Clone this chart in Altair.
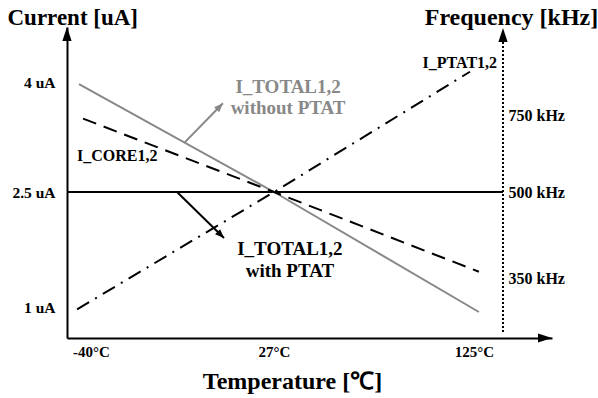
import altair as alt
import pandas as pd

# Axis ticks
temp_ticks = [-40, 27, 125]          # °C
current_ticks = [1, 2.5, 4]          # uA
freq_ticks = [350, 500, 750]         # kHz

# Current curves vs. temperature (°C, uA)
total_temp = [-44.4, 27, 127.4]
total_current = [3.97, 2.5, 0.935]
core_temp = [-42.9, 27, 127.4]
core_current = [3.50, 2.5, 1.46]
ptat_temp = [-45.1, 27, 123.0]
ptat_current = [0.97, 2.5, 4.14]

# Reference level (500 kHz) and the frequency axis line
ref_current = 2.5
ref_temp_span = [-48.79, 139.2]
freq_axis_temp = 139.2
freq_axis_current = [0.674, 4.57]
freq_axis_tip = [139.2, 4.736]

# Axis end points (where the arrowheads sit)
temp_range = [-48.79, 163.2]
current_range = [0.596, 4.75]

# Annotation arrows: start -> tip
grey_arrow_temp = [-5.6, 8.3]
grey_arrow_current = [3.18, 3.71]
black_arrow_temp = [-8.5, 8.7]
black_arrow_current = [2.5, 1.90]

# Annotation labels
grey_label = ["I_TOTAL1,2", "without PTAT"]
grey_label_temp = [33.9, 33.9]
grey_label_current = [3.93, 3.645]
black_label = ["I_TOTAL1,2", "with PTAT"]
black_label_temp = [34.8, 34.8]
black_label_current = [1.757, 1.47]
core_label = ["I_CORE1,2"]
core_label_temp = [-45.1]
core_label_current = [2.99]
ptat_label = ["I_PTAT1,2"]
ptat_label_temp = [136.3]
ptat_label_current = [4.26]

FONT = "Liberation Serif"
GREY = "#888888"
W, H = 485, 311

# Piecewise scales: the temperature axis is drawn schematically
x_scale = alt.Scale(domain=[temp_range[0], -40, 27, 125, temp_range[1]],
                    range=[0, 24, 207, 407, W], nice=False, zero=False)
y_scale = alt.Scale(domain=[current_range[0], 1, 2.5, 4, current_range[1]],
                    range=[H, 280, 165, 55, 0], nice=False, zero=False)
f_scale = alt.Scale(domain=freq_ticks, range=[251, 165, 88], nice=False, zero=False)

x_axis = alt.Axis(values=temp_ticks, labelExpr="datum.value + '°C'", ticks=False, grid=False,
                  domainColor="black", domainWidth=2, labelFont=FONT, labelFontSize=15,
                  labelFontWeight="bold", labelColor="black", labelPadding=6,
                  labelOverlap=False, labelFlush=False, labelBound=False,
                  title="Temperature [℃]", titleFont=FONT, titleFontSize=24,
                  titleFontWeight="bold", titleColor="black", titleX=225, titleY=50,
                  titleAlign="center", titleBaseline="alphabetic")
y_axis = alt.Axis(values=current_ticks, labelExpr="datum.value + ' uA'", ticks=False, grid=False,
                  domainColor="black", domainWidth=2, labelFont=FONT, labelFontSize=15.5,
                  labelFontWeight="bold", labelColor="black", labelPadding=12,
                  labelOverlap=False, labelFlush=False, labelBound=False,
                  title="Current [uA]", titleFont=FONT, titleFontSize=23,
                  titleFontWeight="bold", titleColor="black", titleAngle=0,
                  titleX=-60, titleY=-3, titleAlign="left", titleBaseline="alphabetic")
f_axis = alt.Axis(orient="right", offset=-49, values=freq_ticks,
                  labelExpr="datum.value + ' kHz'", ticks=False, grid=False, domain=False,
                  labelFont=FONT, labelFontSize=16, labelFontWeight="bold",
                  labelColor="black", labelPadding=5,
                  labelOverlap=False, labelFlush=False, labelBound=False,
                  title="Frequency [kHz]", titleFont=FONT, titleFontSize=24,
                  titleFontWeight="bold", titleColor="black", titleAngle=0,
                  titleX=8, titleY=-3, titleAlign="center", titleBaseline="alphabetic")


def X(field="t"):
    return alt.X(f"{field}:Q", scale=x_scale, axis=x_axis)


def Y(field="c"):
    return alt.Y(f"{field}:Q", scale=y_scale, axis=y_axis)


def frame(temps, currents, **extra):
    d = {"t": temps, "c": currents}
    d.update(extra)
    return pd.DataFrame(d)


ARROW_BIG = "M0,0L0.33,1L-0.33,1Z"
ARROW_SMALL = "M0,0L0.4,1L-0.4,1Z"

curves = [
    alt.Chart(frame(total_temp, total_current)).mark_line(color=GREY, strokeWidth=2)
    .encode(x=X(), y=Y()),
    alt.Chart(frame(core_temp, core_current)).mark_line(color="black", strokeWidth=2,
                                                         strokeDash=[14, 8])
    .encode(x=X(), y=Y()),
    alt.Chart(frame(ptat_temp, ptat_current)).mark_line(color="black", strokeWidth=2,
                                                         strokeDash=[14, 7, 2, 7])
    .encode(x=X(), y=Y()),
]

ref_line = alt.Chart(pd.DataFrame({"t": [ref_temp_span[0]], "t2": [ref_temp_span[1]],
                                   "c": [ref_current]})) \
    .mark_rule(color="black", strokeWidth=2) \
    .encode(x=X(), x2="t2:Q", y=Y())

freq_line = alt.Chart(pd.DataFrame({"t": [freq_axis_temp], "c": [freq_axis_current[0]],
                                    "c2": [freq_axis_current[1]]})) \
    .mark_rule(color="black", strokeWidth=2, strokeDash=[2, 2]) \
    .encode(x=X(), y=Y(), y2="c2:Q")

head_style = dict(filled=True, opacity=1, strokeWidth=0)
axis_heads = [
    alt.Chart(frame([temp_range[0]], [current_range[1]])).mark_point(
        shape=ARROW_BIG, size=784, color="black", **head_style).encode(x=X(), y=Y()),
    alt.Chart(frame([temp_range[1]], [current_range[0]])).mark_point(
        shape=ARROW_BIG, size=784, angle=90, color="black", **head_style).encode(x=X(), y=Y()),
    alt.Chart(frame([freq_axis_tip[0]], [freq_axis_tip[1]])).mark_point(
        shape=ARROW_BIG, size=784, color="black", **head_style).encode(x=X(), y=Y()),
]

arrows = [
    alt.Chart(frame(grey_arrow_temp, grey_arrow_current)).mark_line(color=GREY, strokeWidth=2)
    .encode(x=X(), y=Y()),
    alt.Chart(frame(grey_arrow_temp[1:], grey_arrow_current[1:])).mark_point(
        shape=ARROW_SMALL, size=324, angle=44.3, color=GREY, **head_style).encode(x=X(), y=Y()),
    alt.Chart(frame(black_arrow_temp, black_arrow_current)).mark_line(color="black", strokeWidth=2)
    .encode(x=X(), y=Y()),
    alt.Chart(frame(black_arrow_temp[1:], black_arrow_current[1:])).mark_point(
        shape=ARROW_SMALL, size=324, angle=134.4, color="black", **head_style).encode(x=X(), y=Y()),
]

text_style = dict(font=FONT, fontWeight="bold", baseline="middle")
labels = [
    alt.Chart(frame(grey_label_temp, grey_label_current, s=grey_label)).mark_text(
        fontSize=19, color=GREY, align="center", **text_style)
    .encode(x=X(), y=Y(), text="s:N"),
    alt.Chart(frame(black_label_temp, black_label_current, s=black_label)).mark_text(
        fontSize=19, color="black", align="center", **text_style)
    .encode(x=X(), y=Y(), text="s:N"),
    alt.Chart(frame(core_label_temp, core_label_current, s=core_label)).mark_text(
        fontSize=16, color="black", align="left", **text_style)
    .encode(x=X(), y=Y(), text="s:N"),
    alt.Chart(frame(ptat_label_temp, ptat_label_current, s=ptat_label)).mark_text(
        fontSize=16, color="black", align="right", **text_style)
    .encode(x=X(), y=Y(), text="s:N"),
]

current_part = alt.layer(ref_line, freq_line, *curves, *arrows, *axis_heads, *labels)

freq_part = alt.Chart(pd.DataFrame({"f": freq_ticks})).mark_point(opacity=0).encode(
    y=alt.Y("f:Q", scale=f_scale, axis=f_axis))

chart = alt.layer(current_part, freq_part).resolve_scale(y="independent").properties(
    width=W, height=H,
    autosize=alt.AutoSizeParams(type="none"),
    padding={"left": 67, "top": 27, "right": 46, "bottom": 60},
    background="white",
).configure_view(stroke=None)

chart.save("out.html", embed_options={"renderer": "svg", "actions": False})
